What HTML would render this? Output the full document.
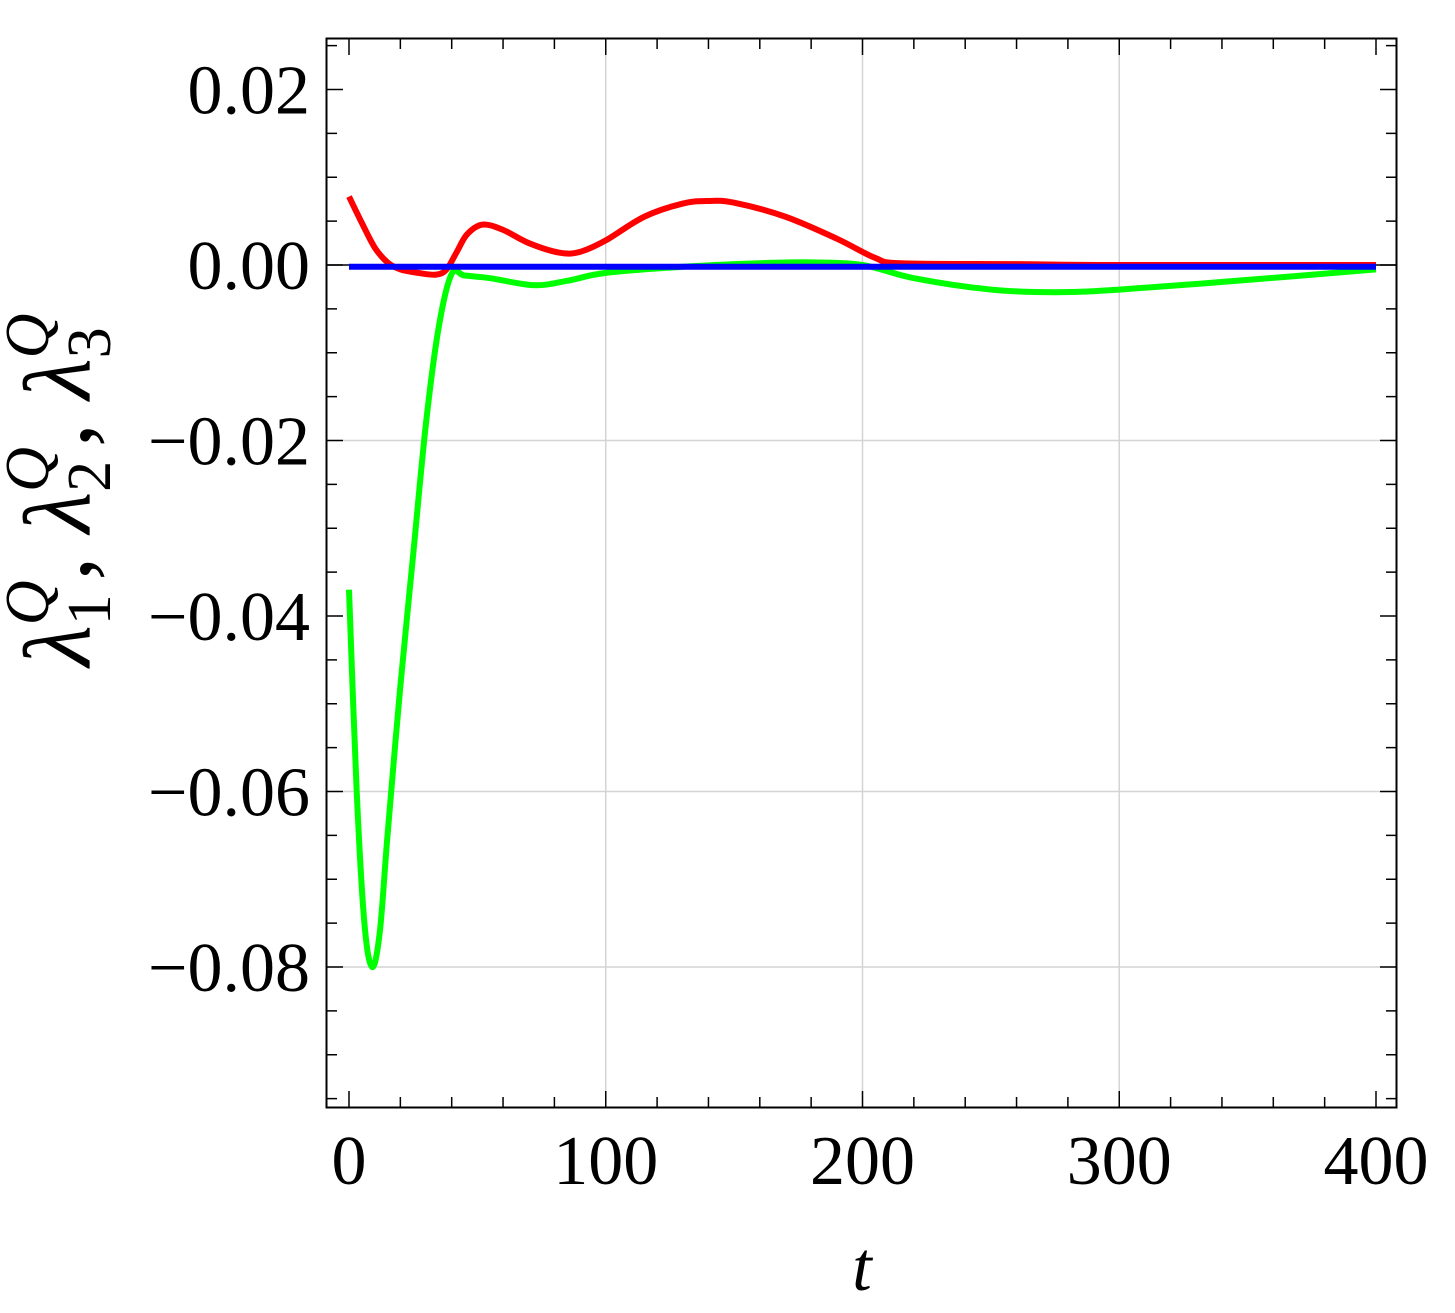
<!DOCTYPE html>
<html><head><meta charset="utf-8"><style>
html,body{margin:0;padding:0;background:#fff}
svg{display:block}
text{font-family:"Liberation Serif",serif;fill:#000}
</style></head><body>
<svg id="chart" width="1455" height="1313" viewBox="0 0 1455 1313" xmlns="http://www.w3.org/2000/svg">
<g id="grid"></g>
<g id="ticks"></g>
<g id="series"></g>
<rect x="326.5" y="38.5" width="1070" height="1069" fill="none" stroke="#000" stroke-width="2"/>
<g id="labels"></g>
<text x="862" y="1290" font-size="70" font-style="italic" text-anchor="middle">t</text>
<text transform="translate(90,490) rotate(-90)" font-size="95" text-anchor="middle"><tspan font-style="italic">λ</tspan><tspan font-size="62" dy="20">1</tspan><tspan font-size="62" font-style="italic" dx="-31" dy="-62">Q</tspan><tspan dy="42">, </tspan><tspan font-style="italic">λ</tspan><tspan font-size="62" dy="20">2</tspan><tspan font-size="62" font-style="italic" dx="-31" dy="-62">Q</tspan><tspan dy="42">, </tspan><tspan font-style="italic">λ</tspan><tspan font-size="62" dy="20">3</tspan><tspan font-size="62" font-style="italic" dx="-31" dy="-62">Q</tspan></text>
</svg>
<script>
const xTicks=[0,100,200,300,400];
const yTicks=[0.02,0,-0.02,-0.04,-0.06,-0.08];
const yTickLabels=["0.02","0.00","\u22120.02","\u22120.04","\u22120.06","\u22120.08"];
const xGrid=[100,200,300];
const yGrid=[-0.02,-0.06,-0.08];
const redT=[0,5,10,15,20,27,34,38,42,46,52,60,70,82,90,100,115,130,140,150,170,190,205,215,260,300,400];
const redY=[0.0078,0.0048,0.002,0.0003,-0.0005,-0.0009,-0.0011,-0.0005,0.0015,0.0035,0.0046,0.0040,0.0025,0.0014,0.0015,0.0028,0.0055,0.0070,0.0073,0.0071,0.0055,0.0030,0.0008,0.0002,0.0001,0,0];
const greenT=[0,3,6,9,12,15,20,25,30,35,40,45,55,72,85,100,130,160,180,200,220,250,275,300,350,400];
const greenY=[-0.037,-0.06,-0.075,-0.080,-0.076,-0.065,-0.048,-0.033,-0.018,-0.007,-0.001,-0.0012,-0.0015,-0.0023,-0.0018,-0.0009,-0.0002,0.0002,0.0003,0.0,-0.0015,-0.0028,-0.0031,-0.0028,-0.0017,-0.0005];
const blueT=[0,400];
const blueY=[-0.0002,-0.0002];
const NS="http://www.w3.org/2000/svg";
const X=t=>349+t*2.5675;
const Y=v=>265-v*8775;
function mk(tag,parent,attrs){const e=document.createElementNS(NS,tag);for(const k in attrs)e.setAttribute(k,attrs[k]);parent.appendChild(e);return e;}
const grid=document.getElementById('grid'),ticks=document.getElementById('ticks'),series=document.getElementById('series'),labels=document.getElementById('labels');
xGrid.forEach(t=>{const l=mk('line',grid,{x1:X(t),x2:X(t),y1:39,y2:1107,stroke:'#d4d4d4','stroke-width':1.5});

});
yGrid.forEach(v=>{const l=mk('line',grid,{x1:327,x2:1396,y1:Y(v),y2:Y(v),stroke:'#d4d4d4','stroke-width':1.5});

});
const zl=mk('line',grid,{x1:327,x2:1396,y1:Y(0),y2:Y(0),stroke:'#000','stroke-width':1.5});


for(let t=-20;t<=400;t+=20){const maj=t%100===0;const len=maj?16:10;const x=X(t);if(x<327)continue;
mk('line',ticks,{x1:x,x2:x,y1:1107,y2:1107-len,stroke:'#000','stroke-width':1.5});
mk('line',ticks,{x1:x,x2:x,y1:39,y2:39+len,stroke:'#000','stroke-width':1.5});}
for(let i=-19;i<=5;i++){const v=i*0.005;const maj=i%4===0;const len=maj?16:10;const y=Y(v);if(y<39||y>1107)continue;
mk('line',ticks,{x1:327,x2:327+len,y1:y,y2:y,stroke:'#000','stroke-width':1.5});
mk('line',ticks,{x1:1396,x2:1396-len,y1:y,y2:y,stroke:'#000','stroke-width':1.5});}
xTicks.forEach(t=>{const e=mk('text',labels,{x:X(t),y:1184,'font-size':70,'text-anchor':'middle'});e.textContent=t;

});
yTicks.forEach((v,i)=>{const e=mk('text',labels,{x:310,y:Y(v)+24,'font-size':70,'text-anchor':'end'});e.textContent=yTickLabels[i];

});
function path(T,V){let d='';const pts=T.map((t,i)=>[X(t),Y(V[i])]);
d='M'+pts[0][0]+','+pts[0][1];
for(let i=0;i<pts.length-1;i++){const p0=pts[Math.max(0,i-1)],p1=pts[i],p2=pts[i+1],p3=pts[Math.min(pts.length-1,i+2)];
const c1x=p1[0]+(p2[0]-p0[0])/6,c1y=p1[1]+(p2[1]-p0[1])/6,c2x=p2[0]-(p3[0]-p1[0])/6,c2y=p2[1]-(p3[1]-p1[1])/6;
d+=` C${c1x},${c1y} ${c2x},${c2y} ${p2[0]},${p2[1]}`;}return d;}
const g=mk('path',series,{d:path(greenT,greenY),fill:'none',stroke:'#00ff00','stroke-width':6,'stroke-linejoin':'round'});


const r=mk('path',series,{d:path(redT,redY),fill:'none',stroke:'#ff0000','stroke-width':6,'stroke-linejoin':'round'});


const b=mk('path',series,{d:path(blueT,blueY),fill:'none',stroke:'#0000ff','stroke-width':6});


</script>
</body></html>
